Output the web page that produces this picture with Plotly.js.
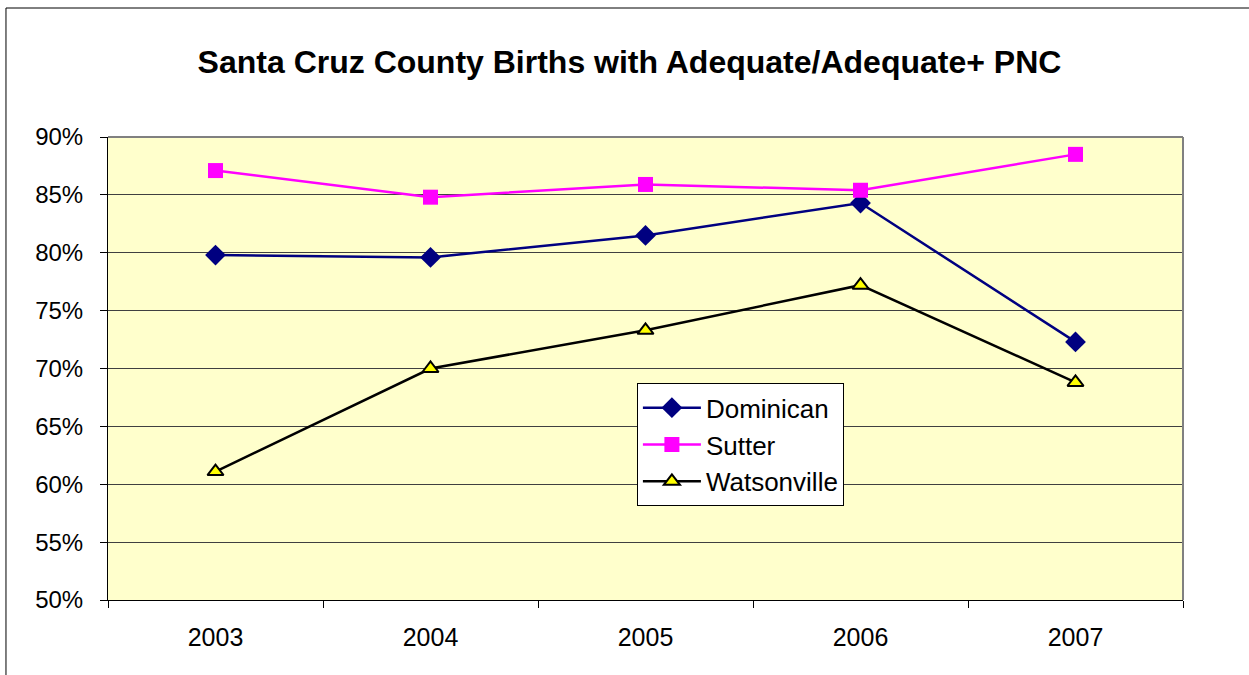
<!DOCTYPE html>
<html>
<head>
<meta charset="utf-8">
<script src="https://cdn.plot.ly/plotly-3.0.1.min.js"></script>
<style>html,body{margin:0;padding:0;background:#fff;}#chart{width:1249px;height:675px;}</style>
</head>
<body>
<div id="chart"></div>
<script>
const years = ['2003', '2004', '2005', '2006', '2007'];
const dominican = [0.798, 0.796, 0.815, 0.843, 0.723];
const sutter = [0.871, 0.848, 0.859, 0.854, 0.885];
const watsonville = [0.611, 0.700, 0.733, 0.772, 0.688];

const traces = [
  {x: years, y: dominican, name: 'Dominican', type: 'scatter', mode: 'lines+markers',
   line: {color: '#000080', width: 2.5}, marker: {symbol: 'diamond', size: 16, color: '#000080'}},
  {x: years, y: sutter, name: 'Sutter', type: 'scatter', mode: 'lines+markers',
   line: {color: '#FF00FF', width: 2.5}, marker: {symbol: 'square', size: 15, color: '#FF00FF'}},
  {x: years, y: watsonville, name: 'Watsonville', type: 'scatter', mode: 'lines+markers',
   line: {color: '#000000', width: 2.5}, marker: {symbol: 'triangle-up', size: 14, color: '#FFFF00', line: {color: '#000000', width: 2}}}
];

const layout = {
  width: 1249, height: 675,
  margin: {l: 108, r: 66, t: 137, b: 75},
  paper_bgcolor: '#FFFFFF',
  plot_bgcolor: '#FFFFCC',
  font: {family: 'Liberation Sans, Arial, sans-serif', size: 24, color: '#000'},
  title: {text: '<b>Santa Cruz County Births with Adequate/Adequate+ PNC</b>',
          font: {size: 32, color: '#000'}, x: 0.504, xref: 'container', xanchor: 'center',
          y: 0.908, yref: 'container', yanchor: 'middle'},
  xaxis: {type: 'category', range: [-0.5, 4.5], tickson: 'boundaries', ticks: 'outside',
          ticklen: 7, tickcolor: '#000', showline: true, linecolor: '#000', linewidth: 1,
          showgrid: false, zeroline: false, ticklabelstandoff: 15, tickfont: {size: 25}},
  yaxis: {range: [0.5, 0.9], dtick: 0.05, tickformat: '.0%', ticks: 'outside', ticklen: 7,
          tickcolor: '#000', showline: true, linecolor: '#000', linewidth: 1,
          showgrid: true, gridcolor: '#404040', gridwidth: 1, zeroline: false, ticklabelstandoff: 12,
          tickfont: {size: 24}},
  legend: {x: 0.492, y: 0.468, xanchor: 'left', yanchor: 'top', bgcolor: '#FFFFFF',
           bordercolor: '#000', borderwidth: 1, font: {size: 26}, itemwidth: 58,
           tracegroupgap: 0},
  showlegend: true,
  shapes: [
    {type: 'line', xref: 'paper', yref: 'paper', x0: 0, x1: 1, y0: 1, y1: 1, line: {color: '#808080', width: 2}},
    {type: 'line', xref: 'paper', yref: 'paper', x0: 1, x1: 1, y0: 0, y1: 1, line: {color: '#808080', width: 2}},
    {type: 'rect', xref: 'paper', yref: 'paper', x0: -0.0949, x1: 1.1, y0: -0.3, y1: 1.2786,
     line: {color: '#000', width: 1}, layer: 'below'}
  ]
};

Plotly.newPlot('chart', traces, layout, {displayModeBar: false, staticPlot: true});
</script>
</body>
</html>
